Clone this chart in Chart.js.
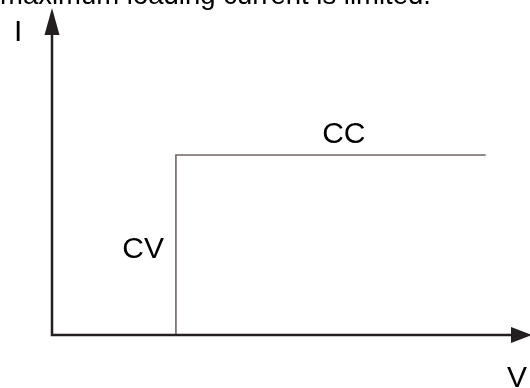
<!DOCTYPE html>
<html>
<head>
<meta charset="utf-8">
<script src="https://cdn.jsdelivr.net/npm/chart.js@4"></script>
<style>
  html, body { margin: 0; padding: 0; background: #fff; }
  #wrap { width: 530px; height: 388px; position: relative; }
</style>
</head>
<body>
<div id="wrap"><canvas id="chart" width="530" height="388"></canvas></div>
<script>
// CC / CV curve (voltage, current) in arbitrary units
var voltage = [2.7, 2.7, 9.45];
var current = [0, 6, 6];
var axisMax = [10, 10]; // V, I
var caption = 'maximum loading current is limited.';
var labels = { x: 'V', y: 'I', cc: 'CC', cv: 'CV' };

var FONT = '30px "Liberation Sans", Arial, sans-serif';
var CAPTION_FONT = '27.5px "Liberation Sans", Arial, sans-serif';
var AXIS_COLOR = '#231f20';

// axes with arrows + text labels, positioned from the scales
var axesPlugin = {
    id: 'axesArrows',
    afterDraw: function(chart) {
        var ctx = chart.ctx;
        var xs = chart.scales.x, ys = chart.scales.y;
        var x0 = xs.getPixelForValue(0), y0 = ys.getPixelForValue(0);
        var xEnd = xs.getPixelForValue(axisMax[0]);
        var yEnd = ys.getPixelForValue(axisMax[1]);

        ctx.save();
        ctx.strokeStyle = AXIS_COLOR;
        ctx.fillStyle = AXIS_COLOR;
        ctx.lineWidth = 2.5;
        ctx.lineCap = 'square';
        ctx.beginPath();
        ctx.moveTo(x0, yEnd);
        ctx.lineTo(x0, y0);
        ctx.lineTo(xEnd, y0);
        ctx.stroke();

        // y arrow
        ctx.beginPath();
        ctx.moveTo(x0 - 7.5, yEnd);
        ctx.lineTo(x0 + 7.5, yEnd);
        ctx.lineTo(x0, yEnd - 27);
        ctx.closePath();
        ctx.fill();
        // x arrow
        ctx.beginPath();
        ctx.moveTo(xEnd, y0 - 8);
        ctx.lineTo(xEnd, y0 + 8);
        ctx.lineTo(xEnd + 21, y0);
        ctx.closePath();
        ctx.fill();

        // text
        ctx.fillStyle = '#000';
        ctx.textBaseline = 'alphabetic';
        ctx.textAlign = 'left';
        ctx.font = CAPTION_FONT;
        ctx.fillText(caption, 0, 4);
        ctx.font = FONT;
        ctx.fillText(labels.y, x0 - 38, yEnd + 6);
        ctx.fillText(labels.x, xEnd - 4, y0 + 52);

        var topY = ys.getPixelForValue(current[1]);
        var cvX = xs.getPixelForValue(voltage[0]);
        var endX = xs.getPixelForValue(voltage[2]);
        ctx.textAlign = 'center';
        ctx.fillText(labels.cc, (cvX + endX) / 2 + 13, topY - 12);
        ctx.textAlign = 'right';
        ctx.fillText(labels.cv, cvX - 12, ys.getPixelForValue(current[1] * 0.43));
        ctx.restore();
    }
};

var points = voltage.map(function(v, i) { return { x: v, y: current[i] }; });

new Chart(document.getElementById('chart').getContext('2d'), {
    type: 'line',
    data: {
        datasets: [{
            data: points,
            borderColor: '#6e6663',
            borderWidth: 1.6,
            pointRadius: 0,
            fill: false,
            tension: 0
        }]
    },
    options: {
        responsive: false,
        animation: false,
        layout: { padding: { left: 52, right: 19, top: 35, bottom: 53 } },
        plugins: { legend: { display: false }, tooltip: { enabled: false } },
        scales: {
            x: { type: 'linear', min: 0, max: axisMax[0], display: false },
            y: { type: 'linear', min: 0, max: axisMax[1], display: false }
        }
    },
    plugins: [axesPlugin]
});
</script>
</body>
</html>
